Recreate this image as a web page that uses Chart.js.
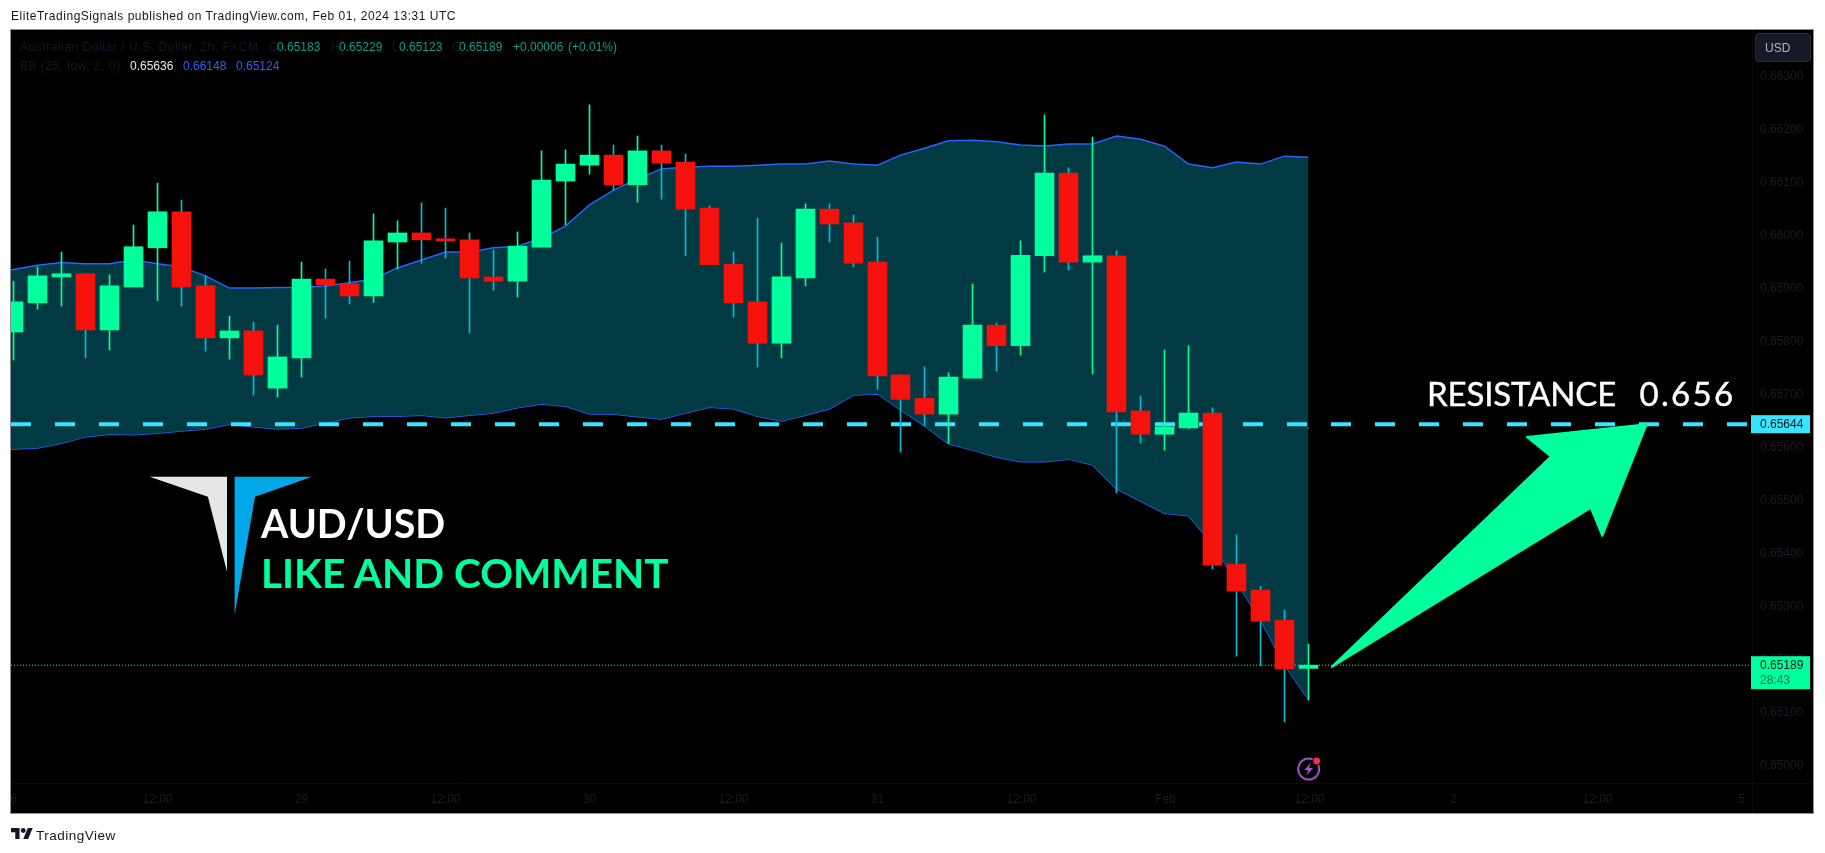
<!DOCTYPE html>
<html>
<head>
<meta charset="utf-8">
<title>AUD/USD</title>
<script src="https://cdn.jsdelivr.net/npm/chart.js@4/dist/chart.umd.min.js"></script>
<style>
html,body{margin:0;padding:0;background:#fff;width:1825px;height:853px;overflow:hidden}
#wrap{position:relative;width:1825px;height:853px}
canvas{position:absolute;left:0;top:0}
.t{position:absolute;white-space:pre;line-height:1;font-family:"Liberation Sans",Arial,sans-serif;font-size:12px;transform-origin:0 50%}
svg{position:absolute;left:0;top:0}
</style>
</head>
<body>
<div id="wrap">
<canvas id="c" width="1825" height="853"></canvas>
<svg width="1825" height="853" viewBox="0 0 1825 853">
  <polygon points="149.6,476.7 227,476.7 227,571.7 207.9,496.7" fill="#e6e6e6"/>
  <polygon points="234.6,476.7 312,476.7 255,496.7 234.6,615" fill="#00a8e8"/>
  <circle cx="1308.7" cy="769" r="10.5" fill="none" stroke="#9c4fc0" stroke-width="2"/>
  <path d="M1311 762.5 L1304.5 770 L1308.3 770 L1306.3 775.5 L1313 768 L1309 768 Z" fill="#a855d0"/>
  <circle cx="1316.7" cy="761" r="4" fill="#f23645" stroke="#000" stroke-width="1"/>
</svg>
<svg width="22" height="11" viewBox="0 4 36 18" style="left:11px;top:828px"><path d="M14 22H7V11H0V4h14v18zM28 22h-8l7.5-18h8L28 22z" fill="#131722"/><circle cx="20" cy="8" r="4" fill="#131722"/></svg>
<div class="t" style="left:11px;top:10px;color:#131722;letter-spacing:.52px">EliteTradingSignals published on TradingView.com, Feb 01, 2024 13:31 UTC</div>
<div class="t" style="left:36px;top:829px;color:#131722;font-size:13.5px;letter-spacing:.5px">TradingView</div>
<div class="t" style="left:20px;top:41px;color:#151924;letter-spacing:.55px">Australian Dollar / U.S. Dollar, 2h, FXCM</div>
<div class="t" style="left:269px;top:41px;color:#151924">O</div><div class="t" style="left:277px;top:41px;color:#0a9f87">0.65183</div>
<div class="t" style="left:331px;top:41px;color:#151924">H</div><div class="t" style="left:339px;top:41px;color:#0a9f87">0.65229</div>
<div class="t" style="left:392px;top:41px;color:#151924">L</div><div class="t" style="left:399px;top:41px;color:#0a9f87">0.65123</div>
<div class="t" style="left:452px;top:41px;color:#151924">C</div><div class="t" style="left:459px;top:41px;color:#0a9f87">0.65189</div>
<div class="t" style="left:513px;top:41px;color:#0a9f87">+0.00006</div><div class="t" style="left:568px;top:41px;color:#0a9f87">(+0.01%)</div>
<div class="t" style="left:20px;top:60px;color:#151924;letter-spacing:.5px">BB (25, low, 2, 0)</div>
<div class="t" style="left:130px;top:60px;color:#e8e8e8">0.65636</div>
<div class="t" style="left:183px;top:60px;color:#2962ff">0.66148</div>
<div class="t" style="left:236px;top:60px;color:#2962ff">0.65124</div>
<div style="position:absolute;left:1755px;top:33px;width:56px;height:29px;box-sizing:border-box;background:#151a26;border:1px solid #2a2e39;border-radius:4px"></div>
<div class="t" style="left:1765px;top:42px;color:#b2b5be">USD</div>
<div class="t" style="left:261px;top:502px;color:#fff;font-family:Lato,sans-serif;font-size:41px;font-weight:700;transform:scaleX(.96)">AUD/USD</div>
<div class="t" style="left:261px;top:551.5px;color:#00ff9d;font-family:Lato,sans-serif;font-size:41px;font-weight:700;transform:scaleX(.99)">LIKE AND COMMENT</div>
<div class="t" style="left:1427px;top:377px;color:#fff;font-family:Lato,sans-serif;font-size:33px;-webkit-text-stroke:.4px #fff"><span style="letter-spacing:-.15px">RESISTANCE</span><span style="letter-spacing:2.3px;word-spacing:1px">  0.656</span></div>
</div>
<script>
// Candle index (2h bars) and OHLC values
const candleIndex = [0,1,2,3,4,5,6,7,8,9,10,11,12,13,14,15,16,17,18,19,20,21,22,23,24,25,26,27,28,29,30,31,32,33,34,35,36,37,38,39,40,41,42,43,44,45,46,47,48,49,50,51,52,53,54];
const opens = [0.65818,0.65873,0.65922,0.65928,0.65822,0.65903,0.65977,0.66045,0.65905,0.65807,0.65820,0.65712,0.65769,0.65918,0.65909,0.65886,0.65988,0.66005,0.65994,0.65992,0.65922,0.65914,0.65978,0.66103,0.66133,0.66152,0.66096,0.66160,0.66139,0.66052,0.65946,0.65875,0.65797,0.65920,0.66050,0.66024,0.65950,0.65737,0.65693,0.65663,0.65731,0.65831,0.65792,0.65962,0.66118,0.65950,0.65962,0.65669,0.65625,0.65637,0.65665,0.65380,0.65331,0.65274,0.65183];
const highs = [0.65914,0.65941,0.65969,0.65928,0.65926,0.66020,0.66099,0.66067,0.65924,0.65848,0.65837,0.65831,0.65950,0.65937,0.65952,0.66041,0.66028,0.66062,0.66052,0.66005,0.65973,0.66007,0.66160,0.66162,0.66247,0.66171,0.66188,0.66171,0.66154,0.66056,0.65969,0.66033,0.65986,0.66060,0.66060,0.66039,0.65997,0.65737,0.65752,0.65741,0.65909,0.65835,0.65990,0.66228,0.66128,0.66186,0.65971,0.65697,0.65784,0.65792,0.65675,0.65435,0.65338,0.65293,0.65229];
const lows = [0.65765,0.65861,0.65867,0.65769,0.65784,0.65903,0.65877,0.65867,0.65782,0.65767,0.65699,0.65695,0.65733,0.65844,0.65871,0.65874,0.65937,0.65948,0.65958,0.65816,0.65897,0.65884,0.65978,0.66020,0.66116,0.66086,0.66063,0.66069,0.65962,0.65945,0.65846,0.65752,0.65769,0.65905,0.65988,0.65941,0.65710,0.65591,0.65641,0.65608,0.65731,0.65744,0.65775,0.65931,0.65935,0.65739,0.65514,0.65608,0.65595,0.65635,0.65371,0.65206,0.65188,0.65082,0.65123];
const closes = [0.65875,0.65924,0.65928,0.65822,0.65905,0.65979,0.66045,0.65903,0.65807,0.65820,0.65737,0.65771,0.65918,0.65907,0.65886,0.65990,0.66005,0.65992,0.65990,0.65920,0.65914,0.65980,0.66105,0.66135,0.66152,0.66096,0.66160,0.66137,0.66050,0.65945,0.65873,0.65797,0.65922,0.66050,0.66022,0.65948,0.65735,0.65691,0.65663,0.65733,0.65831,0.65792,0.65963,0.66118,0.65950,0.65962,0.65667,0.65625,0.65639,0.65665,0.65378,0.65329,0.65272,0.65182,0.65189];
// Bollinger bands: first value belongs to the bar just off the left edge
const bbUpper = [0.65933,0.65936,0.65944,0.65949,0.65947,0.65947,0.65954,0.65947,0.65941,0.65924,0.65901,0.65901,0.65902,0.65902,0.65905,0.65911,0.65918,0.65939,0.65954,0.65969,0.65969,0.65977,0.65980,0.65995,0.66018,0.66058,0.66086,0.66107,0.66126,0.66129,0.66131,0.66131,0.66133,0.66135,0.66135,0.66141,0.66135,0.66133,0.66152,0.66165,0.66179,0.66180,0.66177,0.66171,0.66169,0.66173,0.66173,0.66188,0.66182,0.66169,0.66135,0.66128,0.66139,0.66135,0.66150,0.66148];
const bbMiddle = [0.65763,0.65765,0.65771,0.65780,0.65784,0.65786,0.65790,0.65788,0.65784,0.65778,0.65773,0.65769,0.65768,0.65769,0.65776,0.65784,0.65790,0.65799,0.65809,0.65812,0.65814,0.65820,0.65826,0.65837,0.65846,0.65861,0.65875,0.65882,0.65892,0.65899,0.65905,0.65901,0.65895,0.65894,0.65897,0.65907,0.65916,0.65916,0.65911,0.65903,0.65894,0.65887,0.65878,0.65873,0.65871,0.65877,0.65869,0.65856,0.65841,0.65824,0.65803,0.65775,0.65743,0.65707,0.65671,0.65636];
const bbLower = [0.65597,0.65597,0.65599,0.65608,0.65620,0.65625,0.65624,0.65627,0.65631,0.65635,0.65644,0.65639,0.65635,0.65637,0.65646,0.65656,0.65659,0.65659,0.65661,0.65656,0.65661,0.65665,0.65675,0.65682,0.65678,0.65663,0.65663,0.65658,0.65654,0.65665,0.65676,0.65673,0.65659,0.65650,0.65661,0.65673,0.65699,0.65701,0.65671,0.65641,0.65607,0.65595,0.65582,0.65573,0.65573,0.65578,0.65567,0.65522,0.65499,0.65476,0.65471,0.65418,0.65346,0.65274,0.65189,0.65124];
const resistanceLevel = 0.65644;
const lastPrice = 0.65189;
const priceTicks = [0.650,0.651,0.652,0.653,0.654,0.655,0.656,0.657,0.658,0.659,0.660,0.661,0.662,0.663];
const timeTickIndex = [0,6,12,18,24,30,36,42,48,54,60,66,72];
const timeTickLabels = ['6','12:00','29','12:00','30','12:00','31','12:00','Feb','12:00','2','12:00','5'];
// Arrow drawing, anchored in bar index / price
const arrowIndex = [54.93,65.72,66.20,68.05,63.06,64.06];
const arrowPrice = [0.65186,0.65486,0.65433,0.65644,0.65620,0.65583];

const candleX = candleIndex.map(i => i <= 36 ? i : i - 1/24);
const bbX = [-1].concat(candleX);
const X_MIN = -2.5/24, X_MAX = 1738.5/24;
const isUp = i => closes[i] >= opens[i];
const GREEN = '#00ff9d', RED = '#f6120c', CYAN = '#00bcd4';
const pts = arr => arr.map((v,i) => ({x:bbX[i], y:v}));
const body = up => candleIndex.filter(i => isUp(i) === up).map(i => ({x:candleX[i], y:[Math.min(opens[i],closes[i]), Math.max(opens[i],closes[i])]}));
const wick = up => candleIndex.filter(i => isUp(i) === up).map(i => ({x:candleX[i], y:[lows[i], highs[i]]}));
const lineDs = (label,data,color,width,order,extra) => Object.assign({type:'line',label,data,borderColor:color,borderWidth:width,pointRadius:0,tension:0,order,fill:false}, extra||{});
const barDs = (label,data,color,thick,order) => ({type:'bar',label,data,backgroundColor:color,borderWidth:0,barThickness:thick,grouped:false,order});

const decorations = {
  id:'decorations',
  beforeDraw(c){
    const g=c.ctx; g.save(); g.fillStyle='#fff'; g.fillRect(0,0,1825,853);
    g.fillStyle='#000'; g.fillRect(11,30,1802,783); g.restore();
  },
  afterDatasetsDraw(c){
    const g=c.ctx, sx=c.scales.x, sy=c.scales.y;
    g.save();
    g.beginPath();
    arrowIndex.forEach((v,i)=>{const x=sx.getPixelForValue(v),y=sy.getPixelForValue(arrowPrice[i]); i?g.lineTo(x,y):g.moveTo(x,y);});
    g.closePath(); g.fillStyle=GREEN; g.strokeStyle=GREEN; g.lineWidth=2; g.lineJoin='round'; g.fill(); g.stroke();
    g.restore();
  },
  afterDraw(c){
    const g=c.ctx, sy=c.scales.y, a=c.chartArea;
    g.save();
    g.strokeStyle='#0a0b0f'; g.lineWidth=1;
    g.beginPath(); g.moveTo(a.right+.5,30); g.lineTo(a.right+.5,813); g.moveTo(11,a.bottom+.5); g.lineTo(1813,a.bottom+.5); g.stroke();
    g.strokeStyle='#8e8e93'; g.strokeRect(10.5,29.5,1803,784);
    g.font='12px "Liberation Sans",Arial,sans-serif'; g.textBaseline='middle'; g.textAlign='left';
    const yr=sy.getPixelForValue(resistanceLevel);
    g.fillStyle='#38e4ff'; g.fillRect(a.right-1,yr-9,59,18);
    g.fillStyle='#131722'; g.fillText(resistanceLevel.toFixed(5),1760,yr+.5);
    const yp=sy.getPixelForValue(lastPrice);
    g.fillStyle=GREEN; g.fillRect(a.right-1,yp-9,59,33);
    g.fillStyle='#131722'; g.fillText(lastPrice.toFixed(5),1760,yp+.5);
    g.fillStyle='#0f6e52'; g.fillText('28:43',1760,yp+15.5);
    g.restore();
  }
};

new Chart(document.getElementById('c'),{
  type:'line',
  data:{datasets:[
    lineDs('BB upper',pts(bbUpper),'#2962ff',1.5,5,{fill:'+1',backgroundColor:'#023a43'}),
    lineDs('BB lower',pts(bbLower),'#2962ff',1.5,5),
    lineDs('BB basis',pts(bbMiddle),'#b9c3c5',1.5,5),
    lineDs('Resistance',[{x:X_MIN,y:resistanceLevel},{x:X_MAX,y:resistanceLevel}],'#38e4ff',4,4,{borderDash:[20,24]}),
    lineDs('Last price',[{x:X_MIN,y:lastPrice},{x:X_MAX,y:lastPrice}],GREEN,1,4,{borderDash:[1,2]}),
    barDs('Up wick',wick(true),GREEN,1,3),
    barDs('Down wick',wick(false),CYAN,1,3),
    barDs('Up body',body(true),GREEN,19,2),
    barDs('Down body',body(false),RED,19,2)
  ]},
  options:{
    responsive:false,animation:false,
    layout:{padding:{left:11,top:30,right:12,bottom:40}},
    plugins:{legend:{display:false},tooltip:{enabled:false},title:{display:false}},
    scales:{
      x:{type:'linear',position:'bottom',offset:false,min:X_MIN,max:X_MAX,
        grid:{display:false,drawTicks:false},border:{display:false},
        afterBuildTicks(s){s.ticks=timeTickIndex.map(v=>({value:v}));},
        afterFit(s){s.height=30;},
        ticks:{autoSkip:false,maxRotation:0,padding:9,color:'#191d27',font:{family:'"Liberation Sans",Arial,sans-serif',size:12},
          callback(v){return timeTickLabels[timeTickIndex.indexOf(v)];}}},
      y:{type:'linear',position:'right',min:0.6638816,max:0.649666,reverse:false,
        grid:{display:false,drawTicks:false},border:{display:false},
        afterBuildTicks(s){s.ticks=priceTicks.map(v=>({value:v}));},
        afterFit(s){s.width=61;},
        ticks:{autoSkip:false,padding:8,color:'#191d27',font:{family:'"Liberation Sans",Arial,sans-serif',size:12},
          callback(v){return v.toFixed(5);}}}
    }
  },
  plugins:[decorations]
});
</script>
</body>
</html>
